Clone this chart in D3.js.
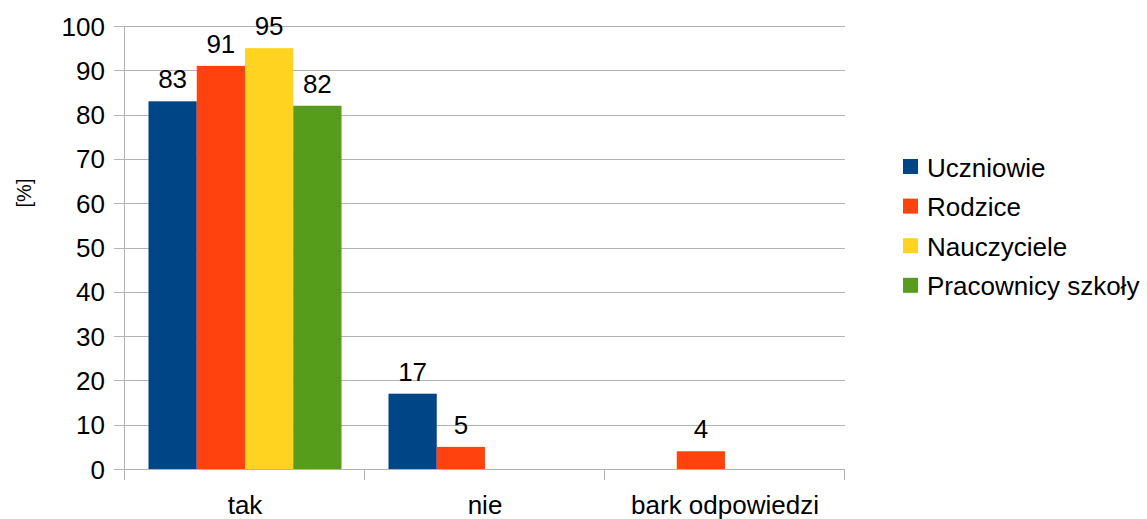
<!DOCTYPE html>
<html>
<head>
<meta charset="utf-8">
<script src="https://cdn.jsdelivr.net/npm/d3@7"></script>
<style>
body { margin: 0; background: #fff; }
svg text { font-family: "Liberation Sans", Arial, sans-serif; fill: #000; }
</style>
</head>
<body>
<svg id="chart"></svg>
<script>
var categories = ["tak", "nie", "bark odpowiedzi"];
var seriesNames = ["Uczniowie", "Rodzice", "Nauczyciele", "Pracownicy szkoły"];
var colors = ["#004586", "#ff420e", "#ffd320", "#579d1c"];
// values per series, in category order (null = no bar)
var uczniowie = [83, 17, null];
var rodzice = [91, 5, 4];
var nauczyciele = [95, null, null];
var pracownicy = [82, null, null];
var yTicks = [0, 10, 20, 30, 40, 50, 60, 70, 80, 90, 100];

var series = [uczniowie, rodzice, nauczyciele, pracownicy];

var width = 1147, height = 519;
var margin = {left: 125, right: 302, top: 26, bottom: 50};
var plotW = width - margin.left - margin.right;
var plotH = height - margin.top - margin.bottom;

var svg = d3.select("#chart")
    .attr("width", width)
    .attr("height", height);

var x0 = d3.scaleBand()
    .domain(categories)
    .range([0, plotW])
    .paddingInner(0)
    .paddingOuter(0);
var x1 = d3.scaleBand()
    .domain(d3.range(seriesNames.length))
    .range([0, x0.bandwidth()])
    .paddingOuter(0.487)
    .paddingInner(0);
var y = d3.scaleLinear().domain([0, 100]).range([plotH, 0]);

var g = svg.append("g").attr("transform", "translate(" + margin.left + "," + margin.top + ")");

// gridlines
g.selectAll(".grid")
    .data(yTicks)
    .enter()
    .append("line")
    .attr("x1", -11)
    .attr("x2", plotW)
    .attr("y1", function(d){ return Math.round(y(d)) + 0.5; })
    .attr("y2", function(d){ return Math.round(y(d)) + 0.5; })
    .attr("stroke", "#b3b3b3")
    .attr("stroke-width", 1);

// y axis line
g.append("line")
    .attr("x1", -0.5).attr("x2", -0.5)
    .attr("y1", 0).attr("y2", plotH + 11)
    .attr("stroke", "#b3b3b3");

// x ticks
var xTickPos = categories.map(function(c){ return x0(c); }).concat([plotW]);
g.selectAll(".xtick")
    .data(xTickPos)
    .enter()
    .append("line")
    .attr("x1", function(d){ return Math.round(d) - 0.5; })
    .attr("x2", function(d){ return Math.round(d) - 0.5; })
    .attr("y1", plotH)
    .attr("y2", plotH + 11)
    .attr("stroke", "#b3b3b3");

// y tick labels
g.selectAll(".ylab")
    .data(yTicks)
    .enter()
    .append("text")
    .attr("x", -20)
    .attr("y", function(d){ return y(d) + 9.5; })
    .attr("text-anchor", "end")
    .style("font-size", "26px")
    .text(function(d){ return d; });

// x labels
g.selectAll(".xlab")
    .data(categories)
    .enter()
    .append("text")
    .attr("x", function(d){ return x0(d) + x0.bandwidth() / 2; })
    .attr("y", plotH + 45)
    .attr("text-anchor", "middle")
    .style("font-size", "26px")
    .text(function(d){ return d; });

// bars
var flat = [];
series.forEach(function(s, si){
    s.forEach(function(v, ci){
        if (v !== null) flat.push({s: si, c: categories[ci], v: v});
    });
});

g.selectAll(".bar")
    .data(flat)
    .enter()
    .append("rect")
    .attr("x", function(d){ return x0(d.c) + x1(d.s); })
    .attr("width", x1.bandwidth())
    .attr("y", function(d){ return y(d.v); })
    .attr("height", function(d){ return plotH - y(d.v); })
    .style("fill", function(d){ return colors[d.s]; });

g.selectAll(".val")
    .data(flat)
    .enter()
    .append("text")
    .attr("x", function(d){ return x0(d.c) + x1(d.s) + x1.bandwidth() / 2; })
    .attr("y", function(d){ return y(d.v) - 13; })
    .attr("text-anchor", "middle")
    .style("font-size", "26px")
    .text(function(d){ return d.v; });

// y axis title
svg.append("text")
    .attr("transform", "translate(31,193) rotate(-90)")
    .attr("text-anchor", "middle")
    .style("font-size", "20px")
    .text("[%]");

// legend
var legend = svg.append("g").attr("transform", "translate(903,159)");
var items = legend.selectAll(".item")
    .data(seriesNames)
    .enter()
    .append("g")
    .attr("transform", function(d, i){ return "translate(0," + (i * 39.6) + ")"; });
items.append("rect")
    .attr("width", 15)
    .attr("height", 15)
    .style("fill", function(d, i){ return colors[i]; });
items.append("text")
    .attr("x", 24)
    .attr("y", 17.5)
    .style("font-size", "26px")
    .text(function(d){ return d; });
</script>
</body>
</html>
